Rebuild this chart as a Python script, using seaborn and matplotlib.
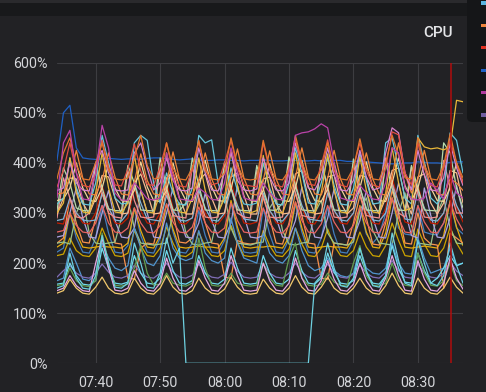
import matplotlib
matplotlib.use("Agg")
import matplotlib.pyplot as plt
import matplotlib.dates as mdates
from matplotlib.patches import Rectangle, FancyBboxPatch
import seaborn as sns
import pandas as pd

# CPU usage per host (%), one sample per minute from 07:34 to 08:37
start = "2024-01-01 07:34"
marker_time = "2024-01-01 08:35:12"

blue_top = [405, 500, 515, 430, 410, 408, 407, 408, 409, 408, 407, 408, 408, 407, 409, 410,
            410, 408, 407, 406, 407, 408, 406, 405, 405, 406, 406, 405, 405, 404, 405, 405,
            406, 405, 404, 404, 405, 405, 404, 404, 405, 404, 404, 405, 405, 403, 403, 404,
            402, 401, 400, 399, 398, 399, 400, 400, 402, 401, 400, 400, 399, 401, 402, 402]
magenta = [330, 440, 465, 380, 328, 326, 380, 475, 430, 340, 326, 325, 360, 345, 328, 326,
           330, 420, 370, 328, 326, 325, 350, 340, 327, 326, 360, 430, 380, 330, 326, 325,
           360, 340, 328, 326, 380, 455, 460, 462, 468, 478, 470, 400, 330, 326, 325, 355,
           340, 328, 326, 360, 430, 420, 350, 328, 326, 330, 360, 345, 328, 380, 340, 330]
red_top = [352, 385, 440, 380, 355, 352, 378, 445, 392, 356, 354, 388, 438, 384, 357, 355,
           392, 440, 380, 354, 352, 386, 442, 390, 356, 360, 400, 445, 390, 356, 354, 352,
           440, 385, 355, 352, 390, 448, 392, 358, 355, 395, 446, 385, 356, 352, 390, 440,
           385, 356, 352, 390, 462, 456, 380, 356, 440, 390, 355, 352, 390, 445, 400, 360]
orange_top = [338, 340, 370, 425, 370, 338, 336, 365, 420, 372, 338, 336, 362, 418, 365, 338,
              336, 360, 422, 368, 338, 336, 366, 420, 368, 338, 336, 372, 428, 370, 338, 336,
              365, 424, 368, 338, 336, 372, 430, 372, 338, 336, 370, 425, 368, 338, 336, 368,
              420, 368, 338, 336, 372, 440, 378, 340, 368, 425, 370, 338, 336, 368, 360, 345]
pink_top = [345, 350, 400, 360, 346, 344, 400, 425, 380, 346, 344, 346, 420, 440, 390, 346,
            360, 410, 365, 346, 344, 350, 430, 380, 346, 344, 380, 420, 365, 346, 344, 348,
            410, 372, 346, 344, 360, 440, 395, 350, 346, 370, 430, 375, 346, 344, 365, 425,
            372, 346, 350, 420, 470, 460, 380, 346, 425, 375, 346, 344, 370, 440, 390, 355]
orange_high = [368, 420, 450, 395, 368, 366, 400, 440, 385, 368, 366, 370, 410, 455, 395, 368,
               370, 440, 390, 368, 366, 390, 445, 385, 368, 366, 380, 450, 395, 368, 366, 368,
               445, 390, 368, 366, 385, 455, 400, 368, 366, 385, 440, 385, 368, 366, 390, 448,
               390, 368, 366, 400, 455, 415, 370, 368, 450, 395, 368, 366, 395, 458, 400, 370]
cyan_mid = [318, 330, 410, 350, 318, 316, 360, 455, 400, 330, 318, 320, 440, 455, 445, 360,
            320, 380, 340, 318, 316, 350, 455, 440, 446, 360, 320, 390, 345, 318, 316, 320,
            400, 350, 318, 316, 360, 430, 380, 320, 318, 360, 410, 355, 318, 316, 350, 420,
            365, 318, 320, 440, 450, 390, 330, 318, 455, 400, 330, 318, 340, 460, 445, 380]
light_yellow = [325, 328, 350, 400, 350, 325, 323, 350, 398, 350, 325, 323, 345, 402, 352, 325,
                323, 345, 400, 350, 325, 323, 350, 405, 352, 325, 323, 348, 400, 350, 325, 323,
                345, 398, 350, 325, 323, 350, 405, 352, 325, 323, 348, 400, 350, 325, 323, 350,
                402, 350, 325, 323, 360, 410, 355, 325, 350, 400, 350, 325, 323, 350, 400, 360]
light_green = [305, 390, 360, 310, 305, 304, 400, 350, 308, 305, 304, 395, 360, 306, 305, 304,
               410, 350, 306, 305, 320, 410, 355, 306, 305, 304, 402, 350, 306, 305, 304, 395,
               348, 306, 305, 320, 412, 355, 306, 305, 304, 405, 350, 306, 305, 304, 408, 352,
               306, 305, 304, 400, 350, 306, 305, 395, 350, 306, 305, 304, 440, 420, 350, 310]
yellow_main = [300, 320, 410, 340, 302, 300, 340, 420, 350, 302, 300, 320, 415, 345, 302, 300,
               340, 420, 350, 302, 300, 330, 410, 345, 302, 300, 330, 425, 355, 302, 300, 305,
               415, 345, 302, 300, 335, 420, 350, 302, 300, 340, 418, 345, 302, 300, 330, 412,
               345, 302, 300, 340, 430, 360, 305, 310, 450, 432, 428, 430, 426, 432, 525, 522]
peach = [298, 330, 370, 368, 320, 298, 330, 375, 372, 330, 298, 300, 360, 378, 340, 298,
         300, 370, 382, 330, 298, 298, 365, 378, 330, 298, 300, 372, 380, 335, 298, 298,
         368, 372, 320, 298, 300, 378, 385, 330, 298, 300, 372, 376, 320, 298, 310, 375,
         372, 320, 298, 330, 385, 390, 330, 298, 372, 378, 320, 298, 320, 385, 380, 320]
salmon = [290, 370, 330, 292, 290, 300, 395, 340, 300, 292, 290, 385, 325, 292, 290, 292,
          390, 340, 295, 292, 290, 395, 330, 292, 290, 292, 400, 350, 300, 292, 290, 385,
          330, 292, 290, 292, 400, 340, 295, 292, 290, 405, 345, 292, 290, 292, 398, 340,
          295, 292, 290, 410, 360, 300, 292, 392, 340, 292, 290, 292, 405, 350, 300, 300]
pale_blue = [285, 288, 330, 300, 286, 284, 286, 340, 310, 286, 284, 300, 360, 320, 288, 286,
             284, 335, 305, 286, 284, 290, 345, 310, 286, 284, 300, 350, 315, 288, 286, 284,
             340, 305, 286, 284, 300, 355, 315, 288, 286, 284, 340, 305, 286, 284, 300, 350,
             310, 286, 284, 300, 360, 320, 288, 286, 345, 310, 286, 284, 300, 355, 315, 290]
red_mid = [280, 278, 330, 300, 280, 278, 300, 355, 310, 280, 278, 290, 350, 305, 280, 278,
           300, 360, 310, 280, 278, 292, 345, 300, 280, 278, 295, 362, 315, 280, 278, 282,
           350, 305, 280, 278, 300, 365, 310, 280, 278, 300, 355, 305, 280, 278, 300, 352,
           305, 280, 278, 310, 372, 320, 282, 278, 355, 308, 280, 278, 300, 360, 310, 282]
coral = [262, 265, 300, 275, 262, 260, 280, 315, 280, 262, 260, 270, 310, 280, 262, 260,
         275, 318, 282, 262, 260, 272, 312, 280, 262, 260, 270, 320, 285, 262, 260, 262,
         310, 280, 262, 260, 275, 322, 285, 262, 260, 278, 315, 282, 262, 260, 275, 312,
         280, 262, 260, 285, 330, 290, 262, 260, 315, 282, 262, 260, 280, 322, 288, 265]
lavender = [252, 255, 300, 350, 290, 252, 250, 300, 345, 285, 252, 250, 270, 345, 300, 252,
            250, 300, 350, 290, 252, 250, 280, 340, 285, 252, 250, 280, 355, 295, 252, 250,
            255, 345, 290, 252, 250, 285, 352, 295, 252, 250, 290, 348, 290, 252, 250, 285,
            345, 290, 252, 250, 300, 360, 305, 255, 250, 350, 295, 252, 250, 290, 355, 300]
green_mid = [240, 242, 238, 300, 330, 260, 240, 238, 240, 242, 290, 330, 270, 240, 238, 236,
             238, 240, 300, 320, 260, 238, 236, 240, 242, 300, 335, 270, 240, 238, 236, 240,
             242, 310, 330, 265, 238, 236, 240, 242, 300, 325, 260, 240, 238, 236, 242, 305,
             330, 265, 240, 238, 236, 300, 340, 275, 240, 238, 236, 300, 330, 270, 240, 238]
orange_low = [240, 250, 330, 280, 242, 240, 290, 340, 300, 240, 238, 170, 168, 230, 240, 238,
              290, 345, 300, 242, 240, 250, 330, 280, 240, 238, 172, 170, 245, 240, 238, 240,
              335, 290, 240, 238, 280, 340, 295, 240, 238, 170, 168, 240, 238, 236, 280, 335,
              290, 238, 236, 280, 345, 300, 240, 238, 300, 250, 238, 236, 150, 260, 250, 240]
gold = [232, 240, 300, 260, 232, 230, 232, 234, 232, 232, 230, 240, 310, 265, 232, 230,
        255, 318, 268, 232, 230, 232, 234, 232, 232, 230, 250, 325, 272, 232, 230, 232,
        232, 234, 232, 230, 252, 322, 270, 232, 230, 232, 234, 232, 232, 230, 250, 315,
        262, 232, 230, 260, 330, 278, 232, 230, 232, 234, 232, 230, 255, 325, 272, 235]
steel_blue = [222, 230, 300, 250, 222, 220, 250, 315, 260, 222, 220, 235, 310, 255, 222, 220,
              250, 318, 262, 222, 220, 240, 305, 255, 222, 220, 245, 320, 265, 222, 220, 222,
              310, 258, 222, 220, 248, 318, 262, 222, 220, 250, 312, 258, 222, 220, 245, 310,
              258, 240, 255, 300, 330, 270, 258, 256, 315, 262, 258, 256, 280, 320, 270, 258]
dark_yellow = [215, 218, 250, 225, 215, 213, 230, 270, 240, 215, 213, 220, 265, 235, 215, 213,
               230, 272, 240, 215, 213, 222, 262, 232, 215, 213, 225, 275, 242, 215, 213, 215,
               265, 235, 215, 213, 228, 270, 238, 215, 213, 230, 268, 235, 215, 213, 225, 262,
               232, 215, 213, 235, 280, 245, 215, 213, 268, 238, 215, 213, 230, 272, 240, 218]
sky = [165, 170, 230, 200, 168, 165, 180, 240, 210, 190, 185, 195, 270, 230, 200, 195,
       215, 280, 230, 210, 205, 210, 265, 220, 205, 200, 210, 290, 240, 210, 205, 200,
       260, 220, 205, 200, 215, 270, 225, 195, 185, 190, 210, 185, 175, 172, 180, 230,
       190, 180, 178, 190, 240, 200, 180, 178, 250, 210, 180, 185, 190, 230, 195, 200]
purple_low = [172, 185, 195, 180, 172, 170, 180, 198, 182, 172, 170, 175, 196, 180, 172, 170,
              180, 200, 182, 172, 170, 176, 198, 180, 172, 170, 178, 202, 184, 172, 170, 172,
              198, 180, 172, 170, 180, 200, 182, 172, 170, 180, 198, 180, 172, 170, 178, 196,
              180, 172, 170, 182, 205, 185, 172, 170, 198, 180, 172, 170, 180, 202, 184, 175]
cyan_pale = [158, 160, 200, 175, 158, 156, 165, 230, 190, 160, 158, 162, 215, 180, 160, 158,
             170, 225, 185, 160, 158, 165, 215, 180, 160, 158, 168, 230, 190, 160, 158, 160,
             215, 180, 160, 158, 168, 225, 185, 160, 158, 170, 220, 182, 160, 158, 165, 215,
             180, 160, 158, 175, 235, 190, 162, 160, 220, 185, 160, 170, 190, 215, 195, 200]
green_low = [155, 158, 190, 165, 155, 153, 165, 260, 200, 156, 154, 158, 190, 235, 180, 156,
             158, 180, 160, 156, 154, 160, 250, 190, 156, 154, 158, 180, 160, 156, 154, 156,
             200, 170, 156, 154, 210, 240, 170, 156, 154, 158, 180, 162, 156, 154, 200, 235,
             175, 156, 154, 160, 200, 165, 156, 154, 220, 180, 156, 154, 165, 200, 165, 155]
cyan_low = [150, 155, 220, 170, 150, 148, 175, 255, 200, 152, 150, 160, 240, 200, 152, 150,
            180, 250, 200, 230, 0, 0, 0, 0, 0, 0, 0, 0, 0, 0, 0, 0,
            0, 0, 0, 0, 0, 0, 0, 0, 160, 175, 240, 190, 155, 152, 170, 230,
            185, 155, 152, 175, 260, 205, 160, 155, 245, 200, 160, 155, 175, 240, 195, 160]
pink_low = [145, 150, 175, 155, 145, 143, 200, 250, 190, 146, 144, 150, 185, 160, 146, 144,
            160, 210, 170, 146, 144, 155, 205, 170, 146, 144, 160, 215, 175, 146, 144, 146,
            200, 165, 146, 144, 160, 210, 170, 146, 144, 165, 205, 168, 146, 144, 158, 200,
            165, 146, 144, 170, 215, 175, 146, 144, 205, 168, 146, 144, 160, 210, 170, 148]
yellow_low = [140, 145, 168, 150, 140, 138, 152, 172, 150, 140, 138, 142, 170, 150, 140, 138,
              150, 175, 152, 140, 138, 145, 170, 150, 140, 138, 148, 172, 152, 140, 138, 140,
              168, 150, 140, 138, 150, 175, 152, 140, 138, 152, 172, 150, 140, 138, 150, 170,
              150, 140, 138, 155, 180, 155, 140, 138, 170, 150, 140, 138, 150, 172, 152, 140]

series = {
    "host-01": (blue_top, "#1F60C4"),
    "host-02": (steel_blue, "#447EBC"),
    "host-03": (dark_yellow, "#CCA300"),
    "host-04": (gold, "#E5AC0E"),
    "host-05": (orange_low, "#F9934E"),
    "host-06": (green_mid, "#9AC48A"),
    "host-07": (lavender, "#AEA2E0"),
    "host-08": (coral, "#EA6460"),
    "host-09": (red_mid, "#BF1B00"),
    "host-10": (pale_blue, "#82B5D8"),
    "host-11": (salmon, "#F29191"),
    "host-12": (peach, "#F9BA8F"),
    "host-13": (light_green, "#B7DBAB"),
    "host-14": (light_yellow, "#F4D598"),
    "host-15": (cyan_mid, "#65C5DB"),
    "host-16": (yellow_main, "#EAB839"),
    "host-17": (orange_top, "#EF843C"),
    "host-18": (pink_top, "#D683CE"),
    "host-19": (red_top, "#E24D42"),
    "host-20": (orange_high, "#E0752D"),
    "host-21": (magenta, "#BA43A9"),
    "host-22": (sky, "#5195CE"),
    "host-23": (purple_low, "#806EB7"),
    "host-24": (cyan_pale, "#70DBED"),
    "host-25": (green_low, "#629E51"),
    "host-26": (pink_low, "#E5A8E2"),
    "host-27": (yellow_low, "#F2C96D"),
    "host-28": (cyan_low, "#6ED0E0"),
}

legend_colors = ["#5BB5E0", "#EF843C", "#E02F1F", "#1F60C4", "#B03A9E", "#705DA0"]

frames = []
for name, (vals, _) in series.items():
    t = pd.date_range(start, periods=len(vals), freq="1min")
    frames.append(pd.DataFrame({"time": t, "cpu": vals, "host": name}))
df = pd.concat(frames, ignore_index=True)
palette = {name: c for name, (_, c) in series.items()}

sns.set_theme(style="dark")
plt.rcParams["font.family"] = ["Roboto", "DejaVu Sans"]

panel = "#222225"
text_col = "#d4d5d9"

fig = plt.figure(figsize=(4.86, 3.92), dpi=100, facecolor=panel)
ax = fig.add_axes([57 / 486, (392 - 363.3) / 392, 406 / 486, 300.6 / 392])
ax.set_facecolor(panel)

sns.lineplot(data=df, x="time", y="cpu", hue="host", palette=palette,
             linewidth=0.9, legend=False, ax=ax, estimator=None)

ax.axvline(pd.Timestamp(marker_time), color="#B00D0D", linewidth=1.1, zorder=5)

ax.set_xlim(pd.Timestamp(start), pd.Timestamp("2024-01-01 08:37"))
ax.set_ylim(0, 600)
ax.set_yticks([0, 100, 200, 300, 400, 500, 600])
ax.set_yticklabels([f"{v}%" for v in [0, 100, 200, 300, 400, 500, 600]])
ax.xaxis.set_major_locator(mdates.MinuteLocator(byminute=[0, 10, 20, 30, 40, 50]))
ax.xaxis.set_major_formatter(mdates.DateFormatter("%H:%M"))
ax.grid(True, color="#3d3d41", linewidth=0.8)
ax.set_axisbelow(True)
for s in ax.spines.values():
    s.set_visible(False)
ax.tick_params(axis="both", length=0, colors=text_col, labelsize=10.3)
ax.tick_params(axis="y", pad=7)
ax.tick_params(axis="x", pad=9)
ax.set_xlabel("")
ax.set_ylabel("")

# dashboard chrome: top strip, title and the clipped legend box
fig.patches.append(Rectangle((0, (392 - 16) / 392), 1, 16 / 392, transform=fig.transFigure,
                             facecolor="#18191B", edgecolor="none", zorder=0))
fig.patches.append(Rectangle((0, (392 - 2.5) / 392), 1, 2.5 / 392, transform=fig.transFigure,
                             facecolor="#2A2A2D", edgecolor="none", zorder=0))
fig.text(453 / 486, (392 - 33) / 392, "CPU", color="#E4E5E8", fontsize=11,
         fontweight="medium", ha="right", va="center")

box = FancyBboxPatch((467 / 486, (392 - 122) / 392), 40 / 486, 140 / 392,
                     boxstyle="round,pad=0,rounding_size=0.012", transform=fig.transFigure,
                     facecolor="#151618", edgecolor="none", zorder=10)
fig.patches.append(box)
for i, c in enumerate(legend_colors):
    y = 3 + i * 22.4
    fig.patches.append(Rectangle((481 / 486, (392 - y - 1.5) / 392), 6 / 486, 3 / 392,
                                 transform=fig.transFigure, facecolor=c, edgecolor="none",
                                 zorder=11))

fig.savefig("out.png", dpi=100, facecolor=panel)
